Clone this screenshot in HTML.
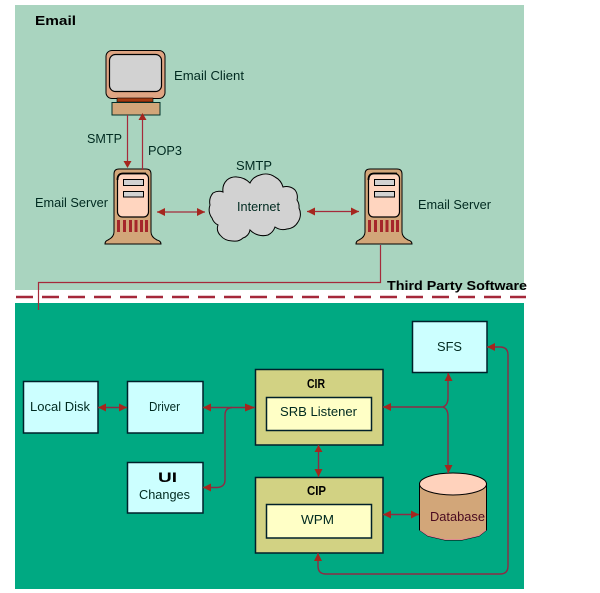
<!DOCTYPE html>
<html>
<head>
<meta charset="utf-8">
<style>
html,body{margin:0;padding:0;background:#fff;}
svg{display:block;}
text{font-family:"Liberation Sans",sans-serif;font-size:13px;fill:#002a20;}
.b{font-weight:bold;fill:#000;}
.box{stroke:#00202a;stroke-width:1.500;}
.c{fill:none;stroke:#a52a3a;stroke-width:1.200;}
.d{fill:none;stroke:#8e2a44;stroke-width:1.400;}
</style>
</head>
<body>
<svg width="600" height="593" viewBox="0 0 600 593" xmlns="http://www.w3.org/2000/svg">
<defs>
<g id="server">
<path d="M105 244 Q105 241 108 240 Q114 237 114 232 L114 174 Q114 169 119 169 L146 169 Q151 169 151 174 L151 232 Q151 237 157 240 Q161 241 161 244 Z" fill="#d2a679" stroke="#000" stroke-width="1"/>
<rect x="117.500" y="173.500" width="31" height="43.500" rx="5" fill="#ffd5bf" stroke="#000" stroke-width="1.200"/>
<path d="M117.500 180 Q117.500 173.500 123 173.500 L146 173.500" fill="none" stroke="#000" stroke-width="1.800"/>
<rect x="123.500" y="179.500" width="20" height="6" fill="#d2d2d2" stroke="#000" stroke-width="1"/>
<rect x="123.500" y="191.500" width="20" height="5.500" fill="#d2d2d2" stroke="#000" stroke-width="1"/>
<g fill="#a5262a">
<rect x="117" y="220" width="3" height="12"/>
<rect x="123" y="220" width="3" height="12"/>
<rect x="129" y="220" width="3" height="12"/>
<rect x="134.500" y="220" width="3" height="12"/>
<rect x="140" y="220" width="3" height="12"/>
<rect x="145" y="220" width="3" height="12"/>
</g>
</g>
</defs>

<rect x="15" y="5" width="509" height="285" fill="#a9d4bf"/>
<rect x="15" y="303" width="509" height="286" fill="#00a982"/>

<line x1="16" y1="297" x2="526" y2="297" stroke="#a5283a" stroke-width="2.500" stroke-dasharray="17 9"/>

<path class="c" d="M380.500 245 L380.500 282.500 L38.500 282.500 L38.500 310"/>

<!-- Monitor -->
<rect x="106" y="50.500" width="59" height="48" rx="6" fill="#dfa583" stroke="#000" stroke-width="1"/>
<rect x="109.500" y="54.500" width="52" height="37" rx="6" fill="#d2d2d2" stroke="#000" stroke-width="1.200"/>
<rect x="117" y="98" width="36" height="4" fill="#a53a10" stroke="#000" stroke-width=".6"/>
<rect x="112" y="102.500" width="48" height="12.500" fill="#d2a679" stroke="#00302a" stroke-width="1"/>

<use href="#server"/>
<use href="#server" x="251"/>

<!-- Cloud -->
<path d="M210 205 A14 14 0 0 1 213 193 A12 12 0 0 1 223 192 A14 14 0 0 1 227 180 A14 14 0 0 1 237 177 A20 20 0 0 1 250 183 A15 15 0 0 1 260 175 A16 16 0 0 1 275 177 A16 16 0 0 1 283 187 A12 12 0 0 1 295 190 A12 12 0 0 1 297 200 A12 12 0 0 1 299 208 A14 14 0 0 1 298 222 A14 14 0 0 1 287 229 A14 14 0 0 1 275 227 A14 14 0 0 1 268 235 A18 18 0 0 1 250 230 A10 10 0 0 1 243 238 A12 12 0 0 1 233 241 A16 16 0 0 1 220 235 A10 10 0 0 1 218 225 A12 12 0 0 1 212 218 A14 14 0 0 1 210 205 Z" fill="#d2d2d2" stroke="#000" stroke-width="1"/>

<path class="c" d="M127.500 115 L127.500 162 M142.500 120 L142.500 170 M157 212 L205 212 M307 211.500 L359 211.500"/>
<g fill="#a5261e">
<path d="M123.500 161 L131.500 161 L127.500 168 Z"/>
<path d="M142.500 113 L146.500 120 L138.500 120 Z"/>
<path d="M157 212 L165 208 L165 216 Z"/>
<path d="M205 212 L197 208 L197 216 Z"/>
<path d="M307 211.500 L315 207.500 L315 215.500 Z"/>
<path d="M359 211.500 L351 207.500 L351 215.500 Z"/>
</g>

<!-- Lower boxes -->
<rect class="box" x="23.500" y="381.500" width="74.500" height="51.500" fill="#ccffff"/>
<rect class="box" x="127.500" y="381.500" width="75.500" height="51.500" fill="#ccffff"/>
<rect class="box" x="127.500" y="462.500" width="75.500" height="50.500" fill="#ccffff"/>
<rect class="box" x="412.500" y="321.500" width="74.500" height="51" fill="#ccffff"/>
<rect class="box" x="255.500" y="369.500" width="127.500" height="75.500" fill="#d2d283"/>
<rect class="box" x="266.500" y="397.500" width="105" height="33" fill="#ffffc6"/>
<rect class="box" x="255.500" y="477.500" width="127.500" height="75.500" fill="#d2d283"/>
<rect class="box" x="266.500" y="504.500" width="105" height="33.500" fill="#ffffc6"/>

<!-- Database -->
<path d="M419.500 483 L419.500 530 L428 536 L445 540 L462 540 L479 536 L486.500 530 L486.500 483" fill="#d2a679" stroke="#000" stroke-width="1"/>
<path d="M420 530 L428 535.500 L445 539.500 L462 539.500 L479 535.500 L486 530" fill="none" stroke="#e08a90" stroke-width="1"/>
<ellipse cx="453" cy="484" rx="33.500" ry="11" fill="#ffd2bc" stroke="#000" stroke-width="1"/>

<!-- Lower connectors -->
<path class="d" d="M98 407.500 L127 407.500 M203 407.500 L255 407.500"/>
<path class="d" d="M232 407.500 Q225 408 225 415 L225 480 Q225 487 217 487.500 L203 487.500"/>
<path class="d" d="M383 407 L443 407 Q448 405 448 398 L448 373 M443 407 Q448 409 448 416 L448 473"/>
<path class="d" d="M318.500 445 L318.500 477 M383 514.500 L419 514.500"/>
<path class="d" d="M318 553 L318 566 Q318 574 326 574 L500 574 Q508 574 508 566 L508 355 Q508 347 500 347 L487 347"/>
<g fill="#a5261e">
<path d="M98 407.500 L106 403.500 L106 411.500 Z"/>
<path d="M127 407.500 L119 403.500 L119 411.500 Z"/>
<path d="M203 407.500 L211 403.500 L211 411.500 Z"/>
<path d="M255 407.500 L245 403.500 L245 411.500 Z"/>
<path d="M203 487.500 L211 483.500 L211 491.500 Z"/>
<path d="M383 407 L391 403 L391 411 Z"/>
<path d="M448.500 373 L452.500 381 L444.500 381 Z"/>
<path d="M448.500 473 L452.500 465 L444.500 465 Z"/>
<path d="M318.500 445 L322.500 452 L314.500 452 Z"/>
<path d="M318.500 477 L322.500 469 L314.500 469 Z"/>
<path d="M383 514.500 L391 510.500 L391 518.500 Z"/>
<path d="M419 514.500 L411 510.500 L411 518.500 Z"/>
<path d="M318 553 L322 561 L314 561 Z"/>
<path d="M487 347 L495 343 L495 351 Z"/>
</g>

<!-- Text -->
<text class="b" x="35" y="25" textLength="41" lengthAdjust="spacingAndGlyphs">Email</text>
<text x="174" y="80" textLength="70" lengthAdjust="spacingAndGlyphs">Email Client</text>
<text x="87" y="143" textLength="35" lengthAdjust="spacingAndGlyphs">SMTP</text>
<text x="148" y="155" textLength="34" lengthAdjust="spacingAndGlyphs">POP3</text>
<text x="35" y="207" textLength="73" lengthAdjust="spacingAndGlyphs">Email Server</text>
<text x="236" y="170" textLength="36" lengthAdjust="spacingAndGlyphs">SMTP</text>
<text x="237" y="211" textLength="43" lengthAdjust="spacingAndGlyphs">Internet</text>
<text x="418" y="209" textLength="73" lengthAdjust="spacingAndGlyphs">Email Server</text>
<text class="b" x="387" y="290" textLength="140" lengthAdjust="spacingAndGlyphs">Third Party Software</text>
<text x="30" y="411" textLength="60" lengthAdjust="spacingAndGlyphs">Local Disk</text>
<text x="149" y="411" textLength="31" lengthAdjust="spacingAndGlyphs">Driver</text>
<text class="b" x="158" y="482" textLength="19" lengthAdjust="spacingAndGlyphs" style="font-size:14px">UI</text>
<text x="139" y="499" textLength="51" lengthAdjust="spacingAndGlyphs">Changes</text>
<text x="437" y="351" textLength="25" lengthAdjust="spacingAndGlyphs">SFS</text>
<text class="b" x="307" y="388" textLength="18" lengthAdjust="spacingAndGlyphs">CIR</text>
<text x="280" y="416" textLength="77" lengthAdjust="spacingAndGlyphs">SRB Listener</text>
<text class="b" x="307" y="495" textLength="19" lengthAdjust="spacingAndGlyphs">CIP</text>
<text x="301" y="524" textLength="33" lengthAdjust="spacingAndGlyphs">WPM</text>
<text x="430" y="521" textLength="55" lengthAdjust="spacingAndGlyphs" style="fill:#4a0a20">Database</text>
</svg>
</body>
</html>
